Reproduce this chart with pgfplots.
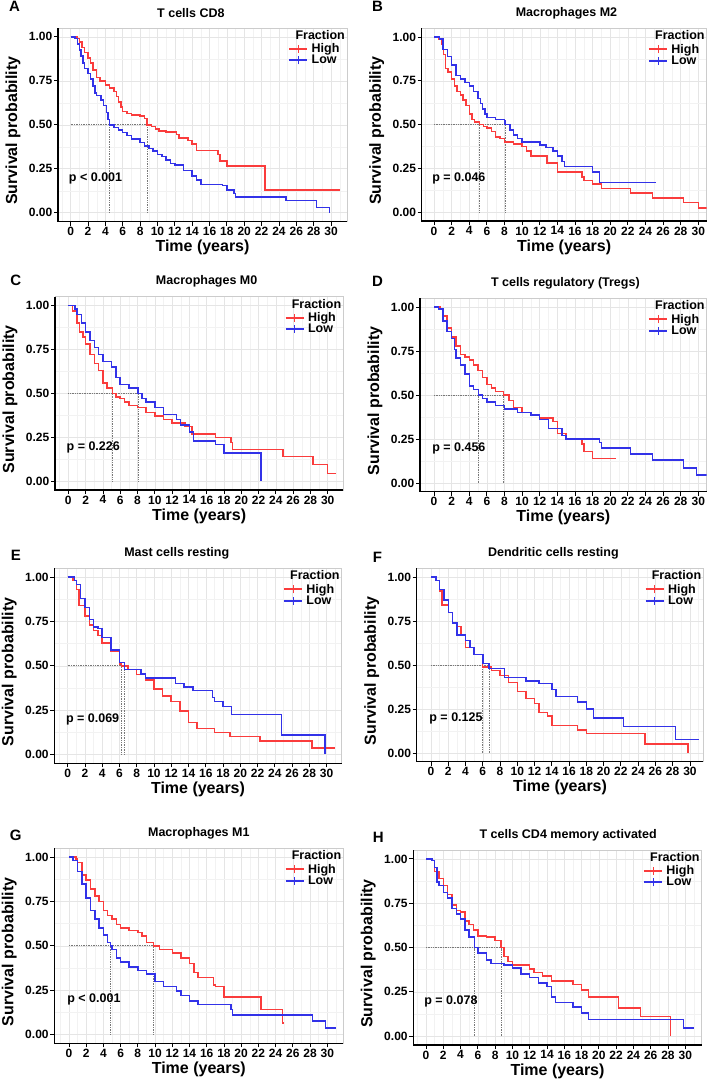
\documentclass[border=0pt]{standalone}
\usepackage{fontspec}
\setmainfont{Liberation Sans}
\usepackage{pgfplots}
\pgfplotsset{compat=1.18}
\usetikzlibrary{calc}
\definecolor{kmred}{RGB}{250,60,60}
\definecolor{kmblue}{RGB}{50,50,232}
\definecolor{medgray}{RGB}{120,120,120}
\newcommand{\tfont}{\bfseries\fontsize{12}{14}\selectfont}
\newcommand{\lfont}{\bfseries\fontsize{16}{19}\selectfont}
\newcommand{\hfont}{\bfseries\fontsize{12.5}{15}\selectfont}
\pgfplotsset{
  km/.style={
    scale only axis,
    anchor=south west,
    ymin=-0.05, ymax=1.05,
    xtick={0,2,...,30},
    xticklabels={0,2,4,6,8,10,12,14,16,18,20,22,24,26,28,30},
    ytick={0,0.25,0.5,0.75,1},
    yticklabels={0.00,0.25,0.50,0.75,1.00},
    minor xtick={-1,1,3,...,31},
    minor ytick={0.125,0.375,0.625,0.875},
    grid=both,
    major grid style={gray!20, line width=0.5pt},
    minor grid style={gray!10, line width=0.4pt},
    tick pos=left,
    tick align=outside,
    major tick length=4pt,
    minor tick length=0pt,
    major tick style={black, line width=0.8pt},
    axis line style={gray!40, line width=0.6pt},
    ticklabel style={font=\tfont},
    xticklabel style={inner sep=1.5pt},
    yticklabel style={inner sep=1.5pt},
    xlabel={Time (years)},
    ylabel={Survival probability},
    label style={font=\lfont},
    xlabel style={at={($(rel axis cs:0.5,0)+(0,-26pt)$)}, anchor=center},
    ylabel style={at={($(rel axis cs:0,0.5)+(-45pt,-6pt)$)}, anchor=center},
    title style={font=\hfont, anchor=center, yshift=9pt},
    legend style={at={(rel axis cs:1,1)}, anchor=north west, xshift=-59pt, yshift=-15pt,
      draw=none, fill=none, inner sep=0pt, row sep=0pt, column sep=3pt,
      font=\hfont, nodes={inner sep=0.5pt}},
    legend cell align=left,
    legend image code/.code={\draw[#1, line width=2pt] (0pt,0pt) -- (18pt,0pt);
      \draw[#1, line width=0.7pt] (9pt,-4pt) -- (9pt,4pt);},
    after end axis/.code={
      \draw[black, line width=1.4pt] (rel axis cs:0,1) -- (rel axis cs:0,0) -- (rel axis cs:1,0);
      \node[anchor=west, font=\hfont] at ($(rel axis cs:1,1)+(-55pt,-7pt)$) {Fraction};
    },
  },
  kmhi/.style={color=kmred, line width=1.5pt, line join=miter},
  kmlo/.style={color=kmblue, line width=1.5pt, line join=miter},
  kmmed/.style={densely dotted, color=medgray, line width=0.7pt, forget plot},
}
\begin{document}
\begin{tikzpicture}
\path[use as bounding box] (0,0) rectangle (709pt,-1085pt);
\node[font=\bfseries\fontsize{15}{18}\selectfont] at (14.5pt,-6.7pt) {A};
\node[font=\bfseries\fontsize{15}{18}\selectfont] at (377.5pt,-6pt) {B};
\node[font=\bfseries\fontsize{15}{18}\selectfont] at (15.8pt,-280.8pt) {C};
\node[font=\bfseries\fontsize{15}{18}\selectfont] at (377.5pt,-281.7pt) {D};
\node[font=\bfseries\fontsize{15}{18}\selectfont] at (15.8pt,-555.8pt) {E};
\node[font=\bfseries\fontsize{15}{18}\selectfont] at (377.5pt,-557.5pt) {F};
\node[font=\bfseries\fontsize{15}{18}\selectfont] at (15.8pt,-835.8pt) {G};
\node[font=\bfseries\fontsize{15}{18}\selectfont] at (378.3pt,-837.5pt) {H};

% ---------------- A ----------------
\begin{axis}[km, at={(58pt,-221.5pt)}, width=289pt, height=193.5pt,
  xmin=-1.46, xmax=31.84, title={T cells CD8}, title style={at={(rel axis cs:0.46,1)}}]
\addplot[kmmed] coordinates {(0,0.5)(8.8,0.5)};
\addplot[kmmed] coordinates {(4.5,0)(4.5,0.5)};
\addplot[kmmed] coordinates {(8.8,0)(8.8,0.5)};
\addplot[kmhi] coordinates {(0,1)(0.8,1)(0.8,0.99)(1.0,0.99)(1.0,0.97)(1.3,0.97)(1.3,0.94)(1.6,0.94)(1.6,0.91)(2.0,0.91)(2.0,0.88)(2.3,0.88)(2.3,0.85)(2.6,0.85)(2.6,0.81)(3.0,0.81)(3.0,0.77)(3.4,0.77)(3.4,0.75)(4.0,0.75)(4.0,0.725)(4.5,0.725)(4.5,0.71)(5.0,0.71)(5.0,0.69)(5.3,0.69)(5.3,0.66)(5.5,0.66)(5.5,0.63)(5.8,0.63)(5.8,0.6)(6.0,0.6)(6.0,0.575)(6.5,0.575)(6.5,0.565)(7.0,0.565)(7.0,0.555)(8.0,0.555)(8.0,0.55)(8.5,0.55)(8.5,0.535)(8.8,0.535)(8.8,0.5)(9.3,0.5)(9.3,0.49)(9.8,0.49)(9.8,0.475)(10.2,0.475)(10.2,0.465)(11.0,0.465)(11.0,0.46)(12.2,0.46)(12.2,0.445)(12.5,0.445)(12.5,0.425)(13.5,0.425)(13.5,0.41)(14.0,0.41)(14.0,0.39)(14.5,0.39)(14.5,0.355)(17.0,0.355)(17.0,0.33)(17.2,0.33)(17.2,0.295)(18.0,0.295)(18.0,0.265)(22.4,0.265)(22.4,0.13)(31.0,0.13)};
\addlegendentry{High}
\addplot[kmlo] coordinates {(0,1)(0.5,1)(0.5,0.99)(0.8,0.99)(0.8,0.96)(1.0,0.96)(1.0,0.925)(1.2,0.925)(1.2,0.89)(1.4,0.89)(1.4,0.85)(1.6,0.85)(1.6,0.82)(2.0,0.82)(2.0,0.79)(2.3,0.79)(2.3,0.76)(2.6,0.76)(2.6,0.72)(2.8,0.72)(2.8,0.68)(3.0,0.68)(3.0,0.665)(3.5,0.665)(3.5,0.64)(3.8,0.64)(3.8,0.61)(4.1,0.61)(4.1,0.57)(4.3,0.57)(4.3,0.53)(4.5,0.53)(4.5,0.5)(5.0,0.5)(5.0,0.485)(5.5,0.485)(5.5,0.47)(6.0,0.47)(6.0,0.455)(6.5,0.455)(6.5,0.44)(7.0,0.44)(7.0,0.42)(8.0,0.42)(8.0,0.4)(8.5,0.4)(8.5,0.38)(9.0,0.38)(9.0,0.365)(9.5,0.365)(9.5,0.35)(10.0,0.35)(10.0,0.33)(10.5,0.33)(10.5,0.32)(11.0,0.32)(11.0,0.30)(11.5,0.30)(11.5,0.28)(12.0,0.28)(12.0,0.27)(13.0,0.27)(13.0,0.24)(14.0,0.24)(14.0,0.21)(14.5,0.21)(14.5,0.185)(15.0,0.185)(15.0,0.16)(17.5,0.16)(17.5,0.155)(18.0,0.155)(18.0,0.13)(18.8,0.13)(18.8,0.11)(19.0,0.11)(19.0,0.09)(24.8,0.09)(24.8,0.068)(28.3,0.068)(28.3,0.03)(29.8,0.03)(29.8,0.0)};
\addlegendentry{Low}
\node[anchor=west, font=\hfont] at (axis cs:-0.6,0.195) {p < 0.001};
\end{axis}

% ---------------- B ----------------
\begin{axis}[km, at={(421.7pt,-221pt)}, width=285pt, height=192.7pt,
  xmin=-1.4, xmax=30.95, title={Macrophages M2}, title style={at={(rel axis cs:0.508,1)}}]
\addplot[kmmed] coordinates {(0,0.5)(8.06,0.5)};
\addplot[kmmed] coordinates {(5.15,0)(5.15,0.5)};
\addplot[kmmed] coordinates {(8.06,0)(8.06,0.5)};
\addplot[kmhi] coordinates {(0,1)(0.5,1)(0.5,0.99)(0.9,0.99)(0.9,0.96)(1.1,0.96)(1.1,0.9)(1.3,0.9)(1.3,0.82)(1.6,0.82)(1.6,0.8)(2.0,0.8)(2.0,0.76)(2.3,0.76)(2.3,0.72)(2.6,0.72)(2.6,0.69)(3.0,0.69)(3.0,0.67)(3.3,0.67)(3.3,0.64)(3.6,0.64)(3.6,0.61)(4.0,0.61)(4.0,0.56)(4.3,0.56)(4.3,0.53)(4.6,0.53)(4.6,0.515)(5.15,0.515)(5.15,0.5)(5.6,0.5)(5.6,0.49)(6.0,0.49)(6.0,0.48)(6.5,0.48)(6.5,0.46)(7.0,0.46)(7.0,0.43)(7.5,0.43)(7.5,0.42)(8.0,0.42)(8.0,0.4)(9.0,0.4)(9.0,0.39)(10.0,0.39)(10.0,0.375)(10.5,0.375)(10.5,0.35)(11.0,0.35)(11.0,0.32)(12.8,0.32)(12.8,0.28)(14.0,0.28)(14.0,0.23)(16.8,0.23)(16.8,0.2)(17.0,0.2)(17.0,0.18)(18.0,0.18)(18.0,0.16)(19.0,0.16)(19.0,0.135)(22.3,0.135)(22.3,0.11)(24.8,0.11)(24.8,0.08)(28.3,0.08)(28.3,0.055)(30.0,0.055)(30.0,0.025)(31.0,0.025)};
\addlegendentry{High}
\addplot[kmlo] coordinates {(0,1)(0.6,1)(0.6,0.99)(1.0,0.99)(1.0,0.93)(1.5,0.93)(1.5,0.89)(2.0,0.89)(2.0,0.84)(2.5,0.84)(2.5,0.78)(3.0,0.78)(3.0,0.76)(3.5,0.76)(3.5,0.74)(4.0,0.74)(4.0,0.72)(4.5,0.72)(4.5,0.69)(5.0,0.69)(5.0,0.65)(5.3,0.65)(5.3,0.62)(5.5,0.62)(5.5,0.59)(5.8,0.59)(5.8,0.56)(6.0,0.56)(6.0,0.54)(7.0,0.54)(7.0,0.53)(8.0,0.53)(8.0,0.52)(8.06,0.52)(8.06,0.5)(8.6,0.5)(8.6,0.47)(9.0,0.47)(9.0,0.44)(9.5,0.44)(9.5,0.42)(10.0,0.42)(10.0,0.40)(12.0,0.40)(12.0,0.385)(12.7,0.385)(12.7,0.37)(13.5,0.37)(13.5,0.35)(14.0,0.35)(14.0,0.32)(14.5,0.32)(14.5,0.29)(14.8,0.29)(14.8,0.26)(18.0,0.26)(18.0,0.23)(18.8,0.23)(18.8,0.17)(25.2,0.17)};
\addlegendentry{Low}
\node[anchor=west, font=\hfont] at (axis cs:-0.6,0.195) {p = 0.046};
\end{axis}

% ---------------- C ----------------
\begin{axis}[km, at={(55pt,-490pt)}, width=288.3pt, height=193.3pt,
  xmin=-1.54, xmax=31.8, title={Macrophages M0}, title style={at={(rel axis cs:0.526,1)}}]
\addplot[kmmed] coordinates {(0,0.5)(8.06,0.5)};
\addplot[kmmed] coordinates {(5.13,0)(5.13,0.5)};
\addplot[kmmed] coordinates {(8.06,0)(8.06,0.5)};
\addplot[kmhi] coordinates {(0,1)(0.5,1)(0.5,0.97)(1.0,0.97)(1.0,0.9)(1.3,0.9)(1.3,0.85)(1.7,0.85)(1.7,0.82)(2.0,0.82)(2.0,0.78)(2.5,0.78)(2.5,0.72)(3.0,0.72)(3.0,0.67)(3.5,0.67)(3.5,0.63)(4.0,0.63)(4.0,0.56)(4.5,0.56)(4.5,0.53)(5.13,0.53)(5.13,0.5)(5.5,0.5)(5.5,0.48)(6.0,0.48)(6.0,0.47)(6.5,0.47)(6.5,0.45)(7.0,0.45)(7.0,0.43)(8.0,0.43)(8.0,0.42)(9.0,0.42)(9.0,0.39)(10.0,0.39)(10.0,0.37)(11.0,0.37)(11.0,0.35)(12.0,0.35)(12.0,0.33)(13.5,0.33)(13.5,0.31)(14.3,0.31)(14.3,0.27)(17.0,0.27)(17.0,0.25)(18.8,0.25)(18.8,0.22)(19.0,0.22)(19.0,0.18)(24.8,0.18)(24.8,0.14)(28.3,0.14)(28.3,0.095)(30.0,0.095)(30.0,0.045)(31.0,0.045)};
\addlegendentry{High}
\addplot[kmlo] coordinates {(0,1)(0.8,1)(0.8,0.98)(1.0,0.98)(1.0,0.95)(1.5,0.95)(1.5,0.9)(2.0,0.9)(2.0,0.85)(2.5,0.85)(2.5,0.8)(3.0,0.8)(3.0,0.76)(3.5,0.76)(3.5,0.72)(4.0,0.72)(4.0,0.68)(5.0,0.68)(5.0,0.65)(5.5,0.65)(5.5,0.59)(6.0,0.59)(6.0,0.55)(7.0,0.55)(7.0,0.53)(8.06,0.53)(8.06,0.5)(8.5,0.5)(8.5,0.47)(9.0,0.47)(9.0,0.45)(10.0,0.45)(10.0,0.42)(11.0,0.42)(11.0,0.38)(12.5,0.38)(12.5,0.35)(13.0,0.35)(13.0,0.32)(14.0,0.32)(14.0,0.28)(14.5,0.28)(14.5,0.23)(17.0,0.23)(17.0,0.21)(18.0,0.21)(18.0,0.16)(22.3,0.16)(22.3,0.0)};
\addlegendentry{Low}
\node[anchor=west, font=\hfont] at (axis cs:-0.6,0.195) {p = 0.226};
\end{axis}

% ---------------- D ----------------
\begin{axis}[km, at={(420pt,-491.7pt)}, width=286.7pt, height=193.4pt,
  xmin=-1.59, xmax=30.95, title={T cells regulatory (Tregs)}, title style={at={(rel axis cs:0.507,1)}}]
\addplot[kmmed] coordinates {(0,0.5)(7.87,0.5)};
\addplot[kmmed] coordinates {(5.03,0)(5.03,0.5)};
\addplot[kmmed] coordinates {(7.87,0)(7.87,0.5)};
\addplot[kmhi] coordinates {(0,1)(0.7,1)(0.7,0.99)(1.0,0.99)(1.0,0.95)(1.5,0.95)(1.5,0.88)(2.0,0.88)(2.0,0.83)(2.5,0.83)(2.5,0.78)(3.0,0.78)(3.0,0.73)(3.5,0.73)(3.5,0.715)(4.0,0.715)(4.0,0.70)(4.5,0.70)(4.5,0.67)(5.0,0.67)(5.0,0.64)(5.5,0.64)(5.5,0.6)(6.0,0.6)(6.0,0.56)(6.5,0.56)(6.5,0.54)(7.0,0.54)(7.0,0.52)(7.87,0.52)(7.87,0.5)(8.5,0.5)(8.5,0.47)(9.0,0.47)(9.0,0.43)(10.0,0.43)(10.0,0.40)(11.0,0.40)(11.0,0.385)(12.0,0.385)(12.0,0.37)(13.5,0.37)(13.5,0.35)(14.0,0.35)(14.0,0.28)(15.0,0.28)(15.0,0.25)(16.8,0.25)(16.8,0.22)(17.0,0.22)(17.0,0.18)(18.0,0.18)(18.0,0.14)(20.7,0.14)};
\addlegendentry{High}
\addplot[kmlo] coordinates {(0,1)(0.5,1)(0.5,0.99)(1.0,0.99)(1.0,0.92)(1.5,0.92)(1.5,0.86)(2.0,0.86)(2.0,0.82)(2.3,0.82)(2.3,0.76)(2.5,0.76)(2.5,0.71)(3.0,0.71)(3.0,0.67)(3.5,0.67)(3.5,0.62)(4.0,0.62)(4.0,0.55)(4.5,0.55)(4.5,0.53)(5.03,0.53)(5.03,0.5)(5.5,0.5)(5.5,0.48)(6.0,0.48)(6.0,0.46)(7.0,0.46)(7.0,0.44)(8.0,0.44)(8.0,0.42)(9.5,0.42)(9.5,0.40)(11.0,0.40)(11.0,0.385)(12.0,0.385)(12.0,0.36)(13.0,0.36)(13.0,0.31)(14.5,0.31)(14.5,0.27)(15.0,0.27)(15.0,0.25)(18.8,0.25)(18.8,0.23)(19.0,0.23)(19.0,0.2)(22.3,0.2)(22.3,0.165)(24.8,0.165)(24.8,0.13)(28.3,0.13)(28.3,0.085)(29.8,0.085)(29.8,0.045)(31.0,0.045)};
\addlegendentry{Low}
\node[anchor=west, font=\hfont] at (axis cs:-0.6,0.195) {p = 0.456};
\end{axis}

% ---------------- E ----------------
\begin{axis}[km, at={(54.3pt,-763.3pt)}, width=287.4pt, height=195pt,
  xmin=-1.55, xmax=31.75, title={Mast cells resting}, title style={at={(rel axis cs:0.426,1)}}]
\addplot[kmmed] coordinates {(0,0.5)(6.6,0.5)};
\addplot[kmmed] coordinates {(6.25,0)(6.25,0.5)};
\addplot[kmmed] coordinates {(6.6,0)(6.6,0.5)};
\addplot[kmhi] coordinates {(0,1)(0.6,1)(0.6,0.98)(1.0,0.98)(1.0,0.93)(1.3,0.93)(1.3,0.84)(2.0,0.84)(2.0,0.78)(2.5,0.78)(2.5,0.73)(3.0,0.73)(3.0,0.70)(3.5,0.70)(3.5,0.67)(4.0,0.67)(4.0,0.63)(5.0,0.63)(5.0,0.58)(6.0,0.58)(6.0,0.51)(6.25,0.51)(6.25,0.5)(7.0,0.5)(7.0,0.48)(8.0,0.48)(8.0,0.45)(9.0,0.45)(9.0,0.42)(10.0,0.42)(10.0,0.37)(11.0,0.37)(11.0,0.33)(12.0,0.33)(12.0,0.30)(13.0,0.30)(13.0,0.245)(14.0,0.245)(14.0,0.18)(15.0,0.18)(15.0,0.145)(17.0,0.145)(17.0,0.125)(18.8,0.125)(18.8,0.1)(22.3,0.1)(22.3,0.075)(28.3,0.075)(28.3,0.035)(31.0,0.035)};
\addlegendentry{High}
\addplot[kmlo] coordinates {(0,1)(0.8,1)(0.8,0.98)(1.0,0.98)(1.0,0.96)(1.5,0.96)(1.5,0.88)(2.0,0.88)(2.0,0.83)(2.5,0.83)(2.5,0.76)(3.0,0.76)(3.0,0.72)(3.5,0.72)(3.5,0.71)(4.0,0.71)(4.0,0.66)(5.0,0.66)(5.0,0.59)(6.0,0.59)(6.0,0.52)(6.6,0.52)(6.6,0.48)(8.5,0.48)(8.5,0.455)(9.0,0.455)(9.0,0.43)(12.5,0.43)(12.5,0.4)(13.5,0.4)(13.5,0.38)(14.5,0.38)(14.5,0.36)(16.8,0.36)(16.8,0.32)(17.0,0.32)(17.0,0.30)(18.0,0.30)(18.0,0.27)(19.0,0.27)(19.0,0.225)(24.8,0.225)(24.8,0.11)(29.8,0.11)(29.8,0.0)};
\addlegendentry{Low}
\node[anchor=west, font=\hfont] at (axis cs:-0.6,0.195) {p = 0.069};
\end{axis}

% ---------------- F ----------------
\begin{axis}[km, at={(416.7pt,-761.7pt)}, width=286.6pt, height=193.4pt,
  xmin=-1.66, xmax=31.55, title={Dendritic cells resting}, title style={at={(rel axis cs:0.477,1)}}]
\addplot[kmmed] coordinates {(0,0.5)(6.72,0.5)};
\addplot[kmmed] coordinates {(5.95,0)(5.95,0.5)};
\addplot[kmmed] coordinates {(6.72,0)(6.72,0.5)};
\addplot[kmhi] coordinates {(0,1)(0.6,1)(0.6,0.98)(1.0,0.98)(1.0,0.92)(1.3,0.92)(1.3,0.84)(2.0,0.84)(2.0,0.8)(2.5,0.8)(2.5,0.74)(3.0,0.74)(3.0,0.72)(3.5,0.72)(3.5,0.67)(4.0,0.67)(4.0,0.6)(5.0,0.6)(5.0,0.56)(5.95,0.56)(5.95,0.49)(7.0,0.49)(7.0,0.47)(8.0,0.47)(8.0,0.44)(9.0,0.44)(9.0,0.40)(10.0,0.40)(10.0,0.35)(11.0,0.35)(11.0,0.31)(12.0,0.31)(12.0,0.28)(12.5,0.28)(12.5,0.23)(13.5,0.23)(13.5,0.21)(14.0,0.21)(14.0,0.155)(17.0,0.155)(17.0,0.13)(18.0,0.13)(18.0,0.11)(24.8,0.11)(24.8,0.05)(29.8,0.05)(29.8,0.0)};
\addlegendentry{High}
\addplot[kmlo] coordinates {(0,1)(0.6,1)(0.6,0.98)(1.0,0.98)(1.0,0.93)(1.5,0.93)(1.5,0.87)(2.0,0.87)(2.0,0.8)(2.5,0.8)(2.5,0.74)(3.0,0.74)(3.0,0.67)(4.0,0.67)(4.0,0.64)(4.5,0.64)(4.5,0.6)(5.0,0.6)(5.0,0.56)(6.0,0.56)(6.0,0.51)(6.72,0.51)(6.72,0.48)(8.5,0.48)(8.5,0.43)(11.0,0.43)(11.0,0.41)(12.5,0.41)(12.5,0.395)(14.0,0.395)(14.0,0.36)(14.5,0.36)(14.5,0.32)(17.0,0.32)(17.0,0.29)(18.0,0.29)(18.0,0.25)(18.8,0.25)(18.8,0.2)(22.3,0.2)(22.3,0.15)(28.3,0.15)(28.3,0.075)(31.0,0.075)};
\addlegendentry{Low}
\node[anchor=west, font=\hfont] at (axis cs:-0.6,0.195) {p = 0.125};
\end{axis}

% ---------------- G ----------------
\begin{axis}[km, at={(54.3pt,-1043.3pt)}, width=289pt, height=195pt,
  xmin=-1.7, xmax=31.86, title={Macrophages M1}, title style={at={(rel axis cs:0.5,1)}}]
\addplot[kmmed] coordinates {(0,0.5)(9.8,0.5)};
\addplot[kmmed] coordinates {(4.84,0)(4.84,0.5)};
\addplot[kmmed] coordinates {(9.8,0)(9.8,0.5)};
\addplot[kmhi] coordinates {(0,1)(0.8,1)(0.8,0.99)(1.0,0.99)(1.0,0.97)(1.5,0.97)(1.5,0.9)(2.0,0.9)(2.0,0.87)(2.5,0.87)(2.5,0.82)(3.0,0.82)(3.0,0.78)(3.5,0.78)(3.5,0.75)(4.0,0.75)(4.0,0.70)(4.5,0.70)(4.5,0.67)(5.0,0.67)(5.0,0.65)(5.5,0.65)(5.5,0.62)(6.0,0.62)(6.0,0.6)(7.0,0.6)(7.0,0.585)(8.0,0.585)(8.0,0.575)(8.5,0.575)(8.5,0.555)(9.0,0.555)(9.0,0.52)(9.8,0.52)(9.8,0.5)(10.5,0.5)(10.5,0.48)(12.0,0.48)(12.0,0.46)(13.0,0.46)(13.0,0.43)(14.0,0.43)(14.0,0.40)(14.5,0.40)(14.5,0.35)(15.0,0.35)(15.0,0.32)(16.8,0.32)(16.8,0.28)(17.0,0.28)(17.0,0.27)(18.0,0.27)(18.0,0.21)(22.3,0.21)(22.3,0.14)(24.8,0.14)(24.8,0.065)(25.0,0.065)};
\addlegendentry{High}
\addplot[kmlo] coordinates {(0,1)(0.5,1)(0.5,0.98)(1.0,0.98)(1.0,0.92)(1.5,0.92)(1.5,0.85)(2.0,0.85)(2.0,0.77)(2.5,0.77)(2.5,0.7)(3.0,0.7)(3.0,0.65)(3.5,0.65)(3.5,0.6)(4.0,0.6)(4.0,0.56)(4.5,0.56)(4.5,0.52)(4.84,0.52)(4.84,0.5)(5.0,0.5)(5.0,0.48)(5.5,0.48)(5.5,0.43)(6.0,0.43)(6.0,0.41)(7.0,0.41)(7.0,0.38)(8.0,0.38)(8.0,0.36)(9.0,0.36)(9.0,0.34)(10.0,0.34)(10.0,0.30)(11.0,0.30)(11.0,0.27)(12.5,0.27)(12.5,0.245)(13.0,0.245)(13.0,0.22)(14.0,0.22)(14.0,0.19)(15.0,0.19)(15.0,0.17)(18.8,0.17)(18.8,0.14)(19.0,0.14)(19.0,0.11)(28.3,0.11)(28.3,0.075)(29.8,0.075)(29.8,0.035)(31.0,0.035)};
\addlegendentry{Low}
\node[anchor=west, font=\hfont] at (axis cs:-0.6,0.195) {p < 0.001};
\end{axis}

% ---------------- H ----------------
\begin{axis}[km, at={(413.3pt,-1045pt)}, width=288.4pt, height=195pt,
  xmin=-1.47, xmax=31.9, title={T cells CD4 memory activated}, title style={at={(rel axis cs:0.537,1)}}]
\addplot[kmmed] coordinates {(0,0.5)(8.69,0.5)};
\addplot[kmmed] coordinates {(5.6,0)(5.6,0.5)};
\addplot[kmmed] coordinates {(8.69,0)(8.69,0.5)};
\addplot[kmhi] coordinates {(0,1)(0.7,1)(0.7,0.99)(1.0,0.99)(1.0,0.93)(1.5,0.93)(1.5,0.89)(2.0,0.89)(2.0,0.85)(2.5,0.85)(2.5,0.80)(3.0,0.80)(3.0,0.74)(3.5,0.74)(3.5,0.71)(4.0,0.71)(4.0,0.7)(4.5,0.7)(4.5,0.65)(5.0,0.65)(5.0,0.63)(5.5,0.63)(5.5,0.6)(6.0,0.6)(6.0,0.565)(7.0,0.565)(7.0,0.56)(8.0,0.56)(8.0,0.54)(8.69,0.54)(8.69,0.5)(9.0,0.5)(9.0,0.45)(9.5,0.45)(9.5,0.42)(10.0,0.42)(10.0,0.40)(12.0,0.40)(12.0,0.38)(12.5,0.38)(12.5,0.36)(13.5,0.36)(13.5,0.34)(14.5,0.34)(14.5,0.31)(17.0,0.31)(17.0,0.29)(18.0,0.29)(18.0,0.26)(18.8,0.26)(18.8,0.22)(22.3,0.22)(22.3,0.16)(24.8,0.16)(24.8,0.11)(28.3,0.11)(28.3,0.0)};
\addlegendentry{High}
\addplot[kmlo] coordinates {(0,1)(0.7,1)(0.7,0.99)(1.0,0.99)(1.0,0.95)(1.3,0.95)(1.3,0.87)(1.5,0.87)(1.5,0.85)(2.0,0.85)(2.0,0.81)(2.5,0.81)(2.5,0.78)(3.0,0.78)(3.0,0.72)(3.5,0.72)(3.5,0.69)(4.0,0.69)(4.0,0.66)(4.5,0.66)(4.5,0.6)(5.0,0.6)(5.0,0.56)(5.6,0.56)(5.6,0.5)(6.0,0.5)(6.0,0.47)(7.0,0.47)(7.0,0.43)(7.5,0.43)(7.5,0.41)(9.0,0.41)(9.0,0.40)(10.0,0.40)(10.0,0.385)(11.0,0.385)(11.0,0.35)(12.0,0.35)(12.0,0.33)(13.0,0.33)(13.0,0.3)(14.0,0.3)(14.0,0.28)(14.5,0.28)(14.5,0.22)(15.0,0.22)(15.0,0.19)(17.0,0.19)(17.0,0.165)(18.0,0.165)(18.0,0.13)(18.8,0.13)(18.8,0.095)(29.8,0.095)(29.8,0.045)(31.0,0.045)};
\addlegendentry{Low}
\node[anchor=west, font=\hfont] at (axis cs:-0.6,0.195) {p = 0.078};
\end{axis}
\end{tikzpicture}
\end{document}
